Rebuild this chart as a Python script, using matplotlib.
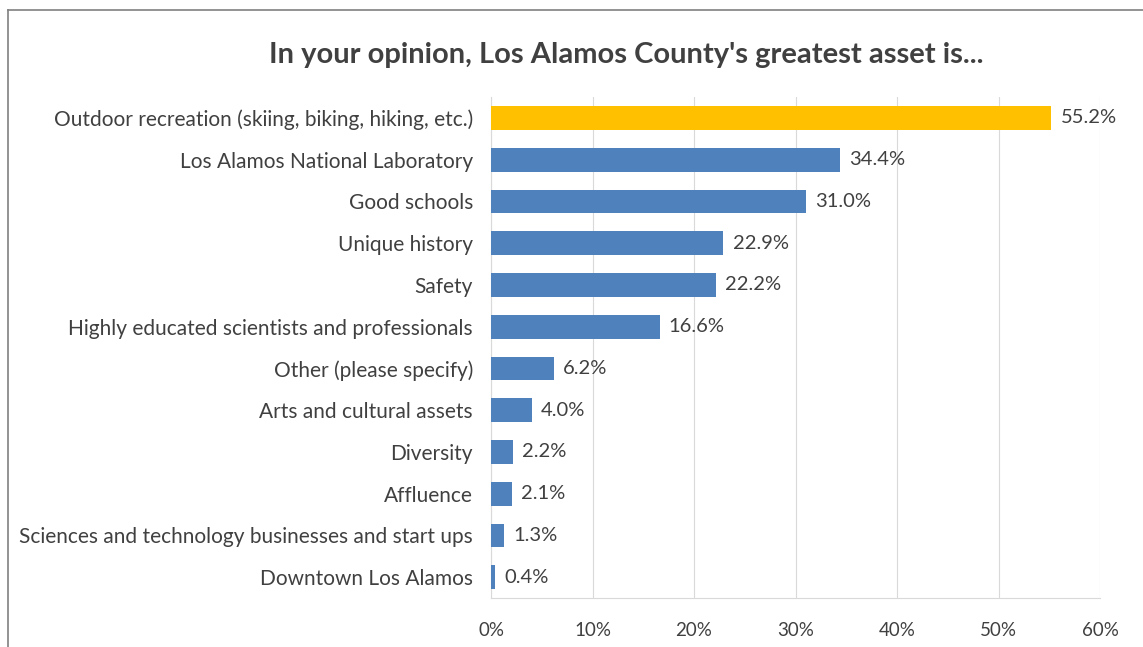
import matplotlib.pyplot as plt
from matplotlib.lines import Line2D
from matplotlib.ticker import FuncFormatter

plt.rcParams['font.family'] = ['Lato', 'DejaVu Sans']

categories = [
    "Outdoor recreation (skiing, biking, hiking, etc.)",
    "Los Alamos National Laboratory",
    "Good schools",
    "Unique history",
    "Safety",
    "Highly educated scientists and professionals",
    "Other (please specify)",
    "Arts and cultural assets",
    "Diversity",
    "Affluence",
    "Sciences and technology businesses and start ups",
    "Downtown Los Alamos",
]
values = [55.2, 34.4, 31.0, 22.9, 22.2, 16.6, 6.2, 4.0, 2.2, 2.1, 1.3, 0.4]
highlight = 0  # top answer drawn in gold

text_col = "#404040"
blue = "#4F81BD"
gold = "#FFC000"

fig = plt.figure(figsize=(11.43, 6.47), dpi=100)
ax = fig.add_axes([0.4296, 0.0757, 0.5328, 0.7743])

colors = [gold if i == highlight else blue for i in range(len(values))]
ypos = list(range(len(values)))
ax.barh(ypos, values, height=0.57, color=colors, zorder=3)
ax.set_ylim(len(values) - 0.5, -0.5)
ax.set_xlim(0, 60)
ax.set_xticks(range(0, 61, 10))
ax.xaxis.set_major_formatter(FuncFormatter(lambda v, p: f"{v:.0f}%"))
ax.set_yticks(ypos)
ax.set_yticklabels(categories)

for y, v in zip(ypos, values):
    ax.text(v + 0.9, y, f"{v:.1f}%", va="center", ha="left",
            fontsize=14.5, color=text_col)

ax.grid(axis="x", color="#d9d9d9", linewidth=0.8, zorder=0)
for s in ["top", "right"]:
    ax.spines[s].set_visible(False)
ax.spines["left"].set_color("#d9d9d9")
ax.spines["bottom"].set_color("#d9d9d9")
ax.tick_params(axis="both", length=0, colors=text_col)
ax.tick_params(axis="x", pad=17, labelsize=13.5)
ax.tick_params(axis="y", pad=13, labelsize=15)

fig.text(0.548, 0.915, "In your opinion, Los Alamos County's greatest asset is...",
         ha="center", va="center", fontsize=21, fontweight="bold", color=text_col)

# outer frame (top and left edges)
fig.add_artist(Line2D([7.5 / 1143, 1.0], [1 - 9.5 / 647, 1 - 9.5 / 647],
                      transform=fig.transFigure, color="#808080", linewidth=1.2))
fig.add_artist(Line2D([7.5 / 1143, 7.5 / 1143], [0.0, 1 - 9.5 / 647],
                      transform=fig.transFigure, color="#808080", linewidth=1.2))

fig.savefig("out.png", dpi=100, facecolor="white")
